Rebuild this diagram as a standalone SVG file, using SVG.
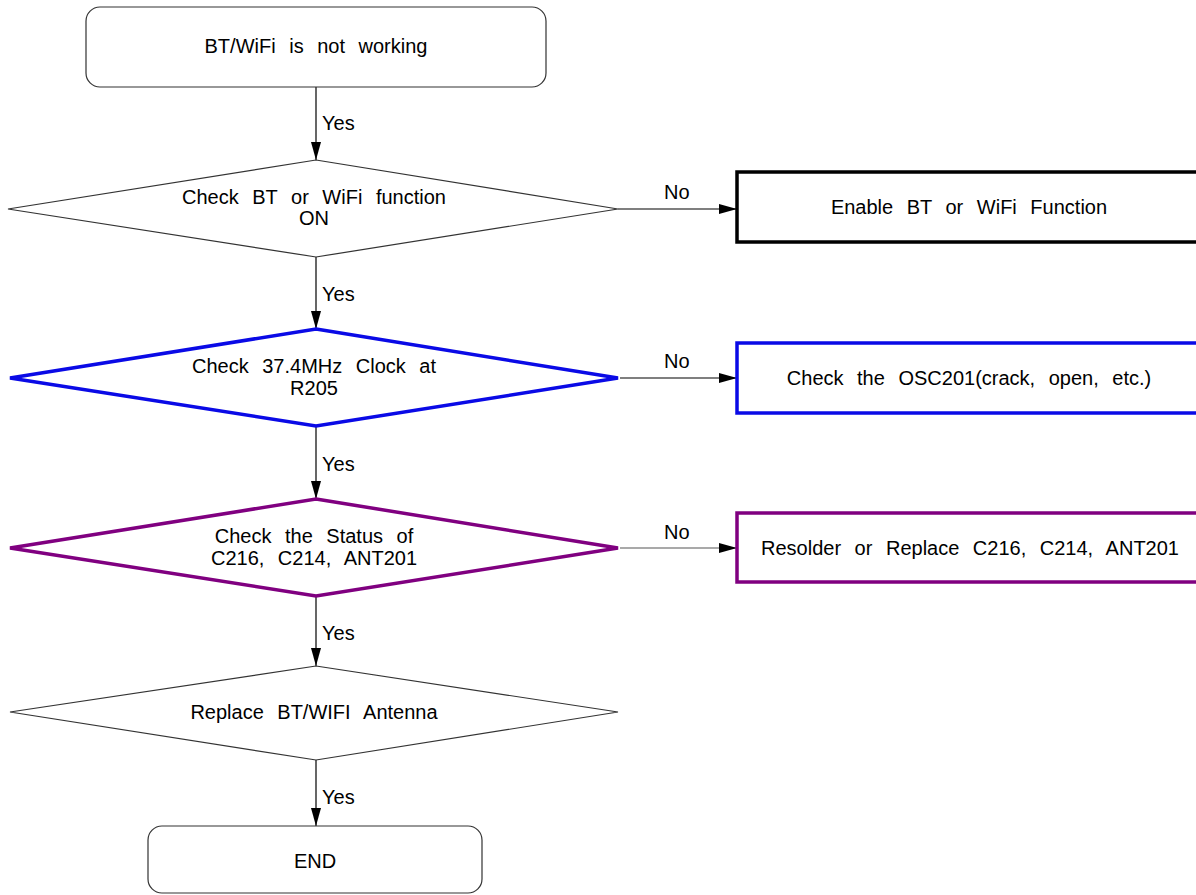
<svg xmlns="http://www.w3.org/2000/svg" width="1196" height="895" viewBox="0 0 1196 895">
<defs>
<marker id="ah" viewBox="0 0 18 10" refX="18" refY="5" markerWidth="18" markerHeight="10" markerUnits="userSpaceOnUse" orient="auto">
<path d="M0,0 L18,5 L0,10 Z" fill="#000"/>
</marker>
</defs>
<style>
text{font-family:"Liberation Sans",Arial,sans-serif;font-size:20px;fill:#000;text-anchor:middle;word-spacing:8px}
.lbl{text-anchor:start;word-spacing:0}
.thin{fill:#fff;stroke:#333;stroke-width:1.2}
.blk{fill:#fff;stroke:#000;stroke-width:3.5}
.blue{fill:#fff;stroke:#0a0ae6;stroke-width:3.5}
.purp{fill:#fff;stroke:#800080;stroke-width:3.5}
.con{stroke:#000;stroke-width:1.2;fill:none;marker-end:url(#ah)}
</style>
<rect width="1196" height="895" fill="#fff"/>
<g id="connectors">
<line class="con" x1="316" y1="87" x2="316" y2="160"/>
<line class="con" x1="316" y1="257" x2="316" y2="329"/>
<line class="con" x1="316" y1="426" x2="316" y2="499"/>
<line class="con" x1="316" y1="596" x2="316" y2="666"/>
<line class="con" x1="316" y1="760" x2="316" y2="826"/>
<line class="con" x1="618" y1="209" x2="737" y2="209"/>
<line class="con" x1="620" y1="378" x2="737" y2="378"/>
<line class="con" x1="620" y1="548" x2="737" y2="548" style="stroke:#555"/>
<text class="lbl" x="322" y="130">Yes</text>
<text class="lbl" x="322" y="301">Yes</text>
<text class="lbl" x="322" y="471">Yes</text>
<text class="lbl" x="322" y="640">Yes</text>
<text class="lbl" x="322" y="804">Yes</text>
<text class="lbl" x="664" y="199">No</text>
<text class="lbl" x="664" y="368">No</text>
<text class="lbl" x="664" y="539">No</text>
</g>
<g id="start">
<rect class="thin" x="86" y="7" width="460" height="80" rx="14"/>
<text x="316" y="53">BT/WiFi is not working</text>
</g>
<g id="d1">
<polygon class="thin" points="316,160 618,209 316,257 8,209"/>
<text x="314" y="204">Check BT or WiFi function</text>
<text x="314" y="225">ON</text>
</g>
<g id="r1">
<rect class="blk" x="737" y="172" width="470" height="70"/>
<text x="969" y="214">Enable BT or WiFi Function</text>
</g>
<g id="d2">
<polygon class="blue" points="316,329 618,378 316,426 10,378"/>
<text x="314" y="373">Check 37.4MHz Clock at</text>
<text x="314" y="395">R205</text>
</g>
<g id="r2">
<rect class="blue" x="737" y="343" width="470" height="70"/>
<text x="969" y="385">Check the OSC201(crack, open, etc.)</text>
</g>
<g id="d3">
<polygon class="purp" points="316,499 618,548 316,596 10,548"/>
<text x="314" y="543">Check the Status of</text>
<text x="314" y="565">C216, C214, ANT201</text>
</g>
<g id="r3">
<rect class="purp" x="737" y="513" width="470" height="69"/>
<text x="970" y="555">Resolder or Replace C216, C214, ANT201</text>
</g>
<g id="d4">
<polygon class="thin" points="316,666 618,712 316,760 10,712"/>
<text x="314" y="719">Replace BT/WIFI Antenna</text>
</g>
<g id="end">
<rect class="thin" x="148" y="826" width="334" height="67" rx="14"/>
<text x="315" y="868">END</text>
</g>
</svg>
